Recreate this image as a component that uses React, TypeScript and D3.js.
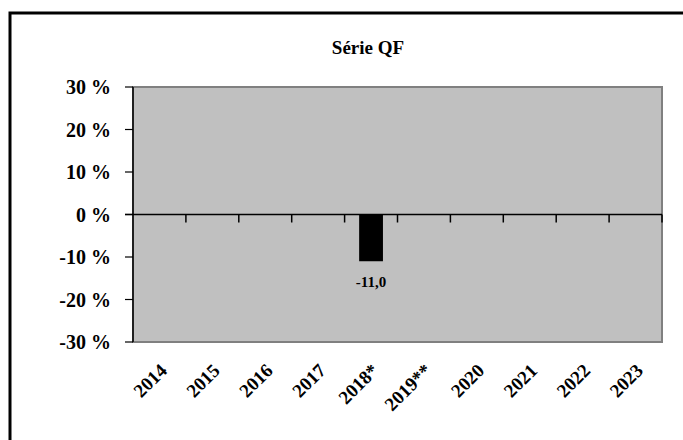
import React from 'react';
import * as d3 from 'd3';

// --- data ---
const categories = ['2014', '2015', '2016', '2017', '2018*', '2019**', '2020', '2021', '2022', '2023'];
const values: (number | null)[] = [null, null, null, null, -11.0, null, null, null, null, null];
const yTicks = [30, 20, 10, 0, -10, -20, -30];
const title = 'Série QF';

const W = 683;
const H = 440;
const plot = { left: 133, right: 662, top: 87, bottom: 342 };
const FONT = '"Liberation Serif", "Times New Roman", serif';

export default function App() {
    const x = d3.scaleBand<string>()
        .domain(categories)
        .range([plot.left, plot.right])
        .paddingInner(0.55)
        .paddingOuter(0.275);
    const y = d3.scaleLinear().domain([-30, 30]).range([plot.bottom, plot.top]);
    const step = x.step();
    const y0 = y(0);
    const fmt = (v: number) => d3.format('.1f')(v).replace('.', ',').replace('\u2212', '-');

    return (
        <div style={{ position: 'absolute', left: 0, top: 0 }}>
            <svg width={W} height={H} style={{ display: 'block', background: '#fff' }}>
                {/* outer frame, runs off the right and bottom */}
                <rect x={10} y={13} width={W + 20} height={H + 20} fill="#fff" stroke="#000" strokeWidth={3} />

                <text x={368} y={54} textAnchor="middle" fontFamily={FONT} fontWeight="bold" fontSize={19}>{title}</text>

                {/* plot area */}
                <rect x={plot.left} y={plot.top} width={plot.right - plot.left} height={plot.bottom - plot.top}
                      fill="#c0c0c0" stroke="#808080" strokeWidth={2} />
                <line x1={plot.left} x2={plot.left} y1={plot.top} y2={plot.bottom} stroke="#000" strokeWidth={1.5} />

                {/* y axis */}
                {yTicks.map(t => (
                    <g key={t}>
                        <line x1={plot.left - 8} x2={plot.left} y1={y(t)} y2={y(t)} stroke="#000" strokeWidth={1.2} />
                        <text x={111} y={y(t)} dy="0.35em" textAnchor="end" fontFamily={FONT} fontWeight="bold" fontSize={20}>
                            {t} %
                        </text>
                    </g>
                ))}

                {/* bars */}
                {categories.map((c, i) => values[i] == null ? null : (
                    <rect key={c} x={x(c)} width={x.bandwidth()}
                          y={Math.min(y0, y(values[i] as number))}
                          height={Math.abs(y(values[i] as number) - y0)} fill="#000" />
                ))}

                {/* zero line with category ticks */}
                <line x1={plot.left - 8} x2={plot.right} y1={y0} y2={y0} stroke="#000" strokeWidth={1.5} />
                {categories.map((c, i) => (
                    <line key={c} x1={plot.left + step * (i + 1)} x2={plot.left + step * (i + 1)}
                          y1={y0} y2={y0 + 8} stroke="#000" strokeWidth={1.5} />
                ))}

                {/* value labels */}
                {categories.map((c, i) => values[i] == null ? null : (
                    <text key={c} x={(x(c) as number) + x.bandwidth() / 2} y={y(values[i] as number) + 26}
                          textAnchor="middle" fontFamily={FONT} fontWeight="bold" fontSize={15}>
                        {fmt(values[i] as number)}
                    </text>
                ))}

                {/* x labels */}
                {categories.map(c => {
                    const cx = (x(c) as number) + x.bandwidth() / 2 + 4;
                    const cy = plot.bottom + 25;
                    return (
                        <text key={c} transform={`translate(${cx},${cy}) rotate(-45)`} textAnchor="end"
                              dy="0.35em" fontFamily={FONT} fontWeight="bold" fontSize={19}>
                            {c}
                        </text>
                    );
                })}
            </svg>
        </div>
    );
}
